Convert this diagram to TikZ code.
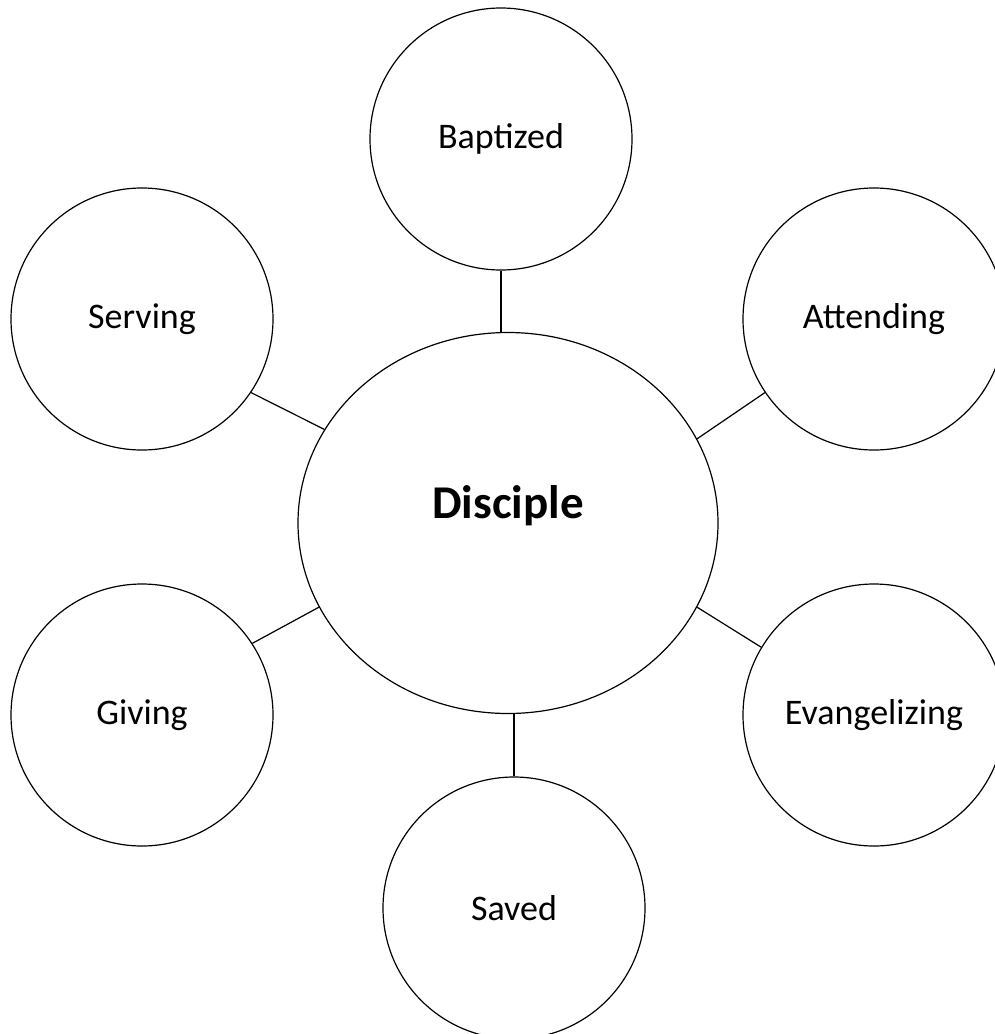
\documentclass[tikz,border=0pt]{standalone}
\usepackage{fontspec}
\setmainfont{Carlito}
\usetikzlibrary{shapes.geometric}
\begin{document}
\begin{tikzpicture}[x=1pt,y=-1pt,
  bubble/.style={draw=black,line width=1.2pt,circle,minimum size=262pt,inner sep=0pt,font=\fontsize{36}{43}\selectfont},
  hub/.style={draw=black,line width=1.2pt,ellipse,minimum width=420pt,minimum height=381pt,inner sep=0pt},
  link/.style={line width=1.2pt}]
\useasboundingbox (0,0) rectangle (995,1034);
\clip (0,0) rectangle (995,1034);
\node[hub] (disc) at (508,523) {};
\node[font=\fontsize{47}{56}\selectfont\bfseries] (disctext) at (508,506) {Disciple};
\node[bubble] (bap) at (501,139) {Baptized};
\node[bubble] (serv) at (142,319) {Serving};
\node[bubble] (att) at (874,319) {Attending};
\node[bubble] (giv) at (142,715) {Giving};
\node[bubble] (evan) at (874,715) {Evangelizing};
\node[bubble] (saved) at (514,908) {Saved};
\draw[link] (bap.south) -- (bap.south |- disc.north);
\draw[link] (saved.north) -- (saved.north |- disc.south);
\draw[link] (serv.-34) -- (disc.153);
\draw[link] (att.214) -- (disc.24);
\draw[link] (giv.33) -- (disc.204);
\draw[link] (evan.149) -- (disc.336);
\end{tikzpicture}
\end{document}
